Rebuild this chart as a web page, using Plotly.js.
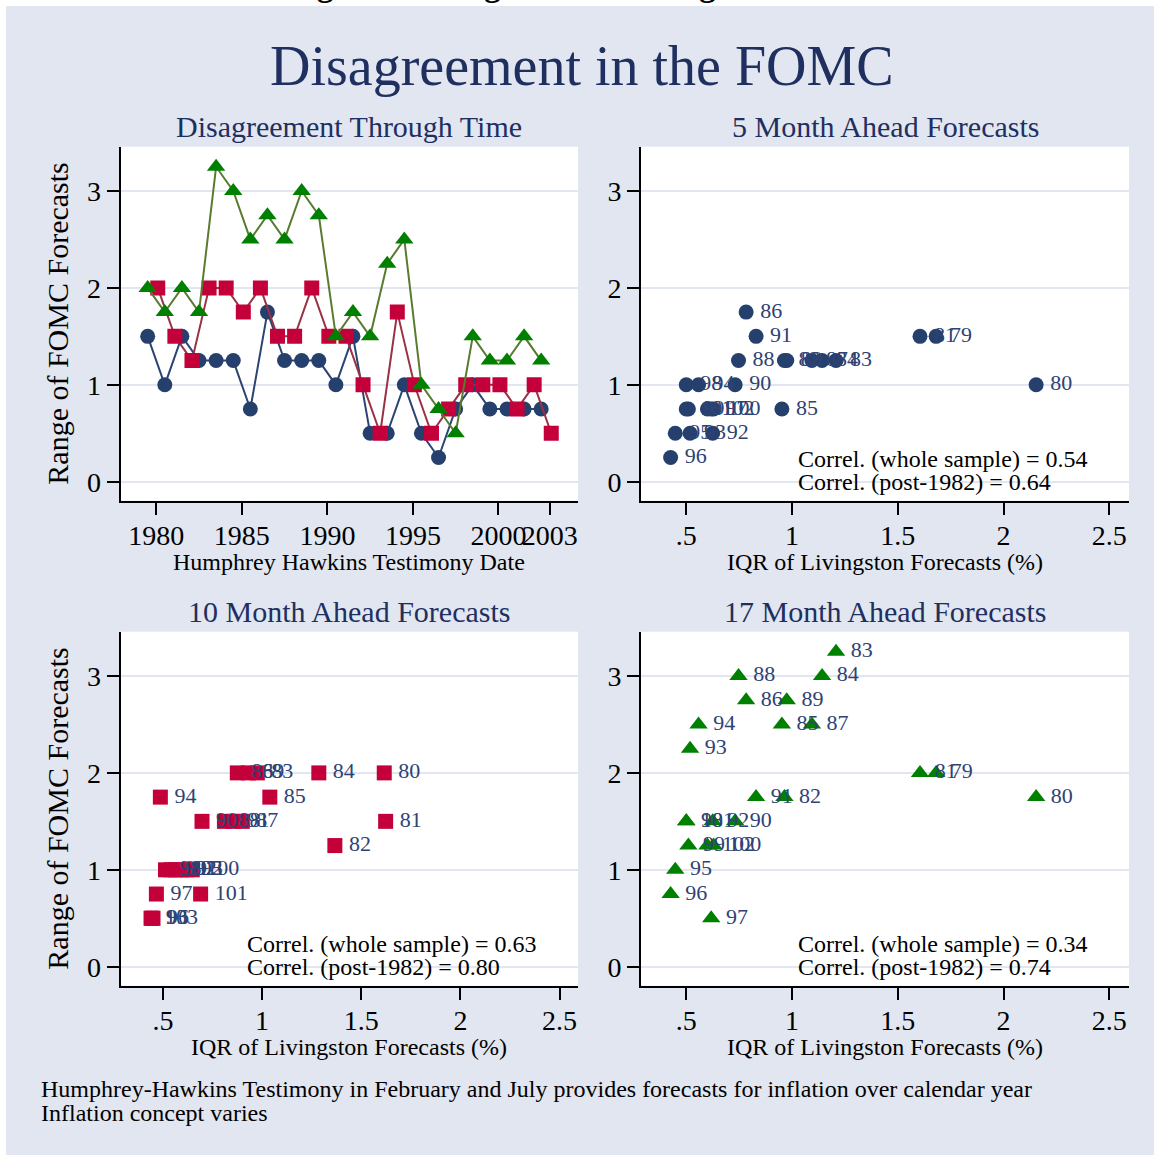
<!DOCTYPE html>
<html>
<head>
<meta charset="utf-8">
<script src="https://cdn.plot.ly/plotly-3.0.1.min.js"></script>
<style>
html,body{margin:0;padding:0;background:#ffffff;}
#chart{width:1154px;height:1155px;}
</style>
</head>
<body>
<div id="chart"></div>
<script>
// ---------------- DATA ----------------
// July testimony dates (5- and 17-month ahead forecasts)
const julyDates = ['1979-07-01','1980-07-01','1981-07-01','1982-07-01','1983-07-01','1984-07-01',
  '1985-07-01','1986-07-01','1987-07-01','1988-07-01','1989-07-01','1990-07-01','1991-07-01',
  '1992-07-01','1993-07-01','1994-07-01','1995-07-01','1996-07-01','1997-07-01','1998-07-01',
  '1999-07-01','2000-07-01','2001-07-01','2002-07-01'];
const julyLabels = ['79','80','81','82','83','84','85','86','87','88','89','90','91','92','93','94',
  '95','96','97','98','99','100','101','102'];
// February testimony dates (10-month ahead forecasts)
const febDates = ['1980-02-01','1981-02-01','1982-02-01','1983-02-01','1984-02-01','1985-02-01',
  '1986-02-01','1987-02-01','1988-02-01','1989-02-01','1990-02-01','1991-02-01','1992-02-01',
  '1993-02-01','1994-02-01','1995-02-01','1996-02-01','1997-02-01','1998-02-01','1999-02-01',
  '2000-02-01','2001-02-01','2002-02-01','2003-02-01'];
const febLabels = ['80','81','82','83','84','85','86','87','88','89','90','91','92','93','94','95',
  '96','97','98','99','100','101','102','103'];

// Range of FOMC forecasts
const range5  = [1.5,1.0,1.5,1.25,1.25,1.25,0.75,1.75,1.25,1.25,1.25,1.0,1.5,0.5,0.5,1.0,0.5,0.25,0.75,1.0,0.75,0.75,0.75,0.75];
const range17 = [2.0,1.75,2.0,1.75,3.25,3.0,2.5,2.75,2.5,3.0,2.75,1.5,1.75,1.5,2.25,2.5,1.0,0.75,0.5,1.5,1.25,1.25,1.5,1.25];
const range10 = [2.0,1.5,1.25,2.0,2.0,1.75,2.0,1.5,1.5,2.0,1.5,1.5,1.0,0.5,1.75,1.0,0.5,0.75,1.0,1.0,1.0,0.75,1.0,0.5];

// IQR of Livingston forecasts (%)
const iqrJuly = [1.681,2.154,1.605,0.964,1.208,1.142,0.952,0.783,1.094,0.747,0.975,0.731,0.830,0.625,0.518,0.558,0.448,0.426,0.618,0.500,0.510,0.629,0.500,0.600];
const iqrFeb  = [1.616,1.623,1.367,0.976,1.286,1.039,0.875,0.900,0.810,0.930,0.697,0.855,0.590,0.444,0.487,0.620,0.450,0.467,0.513,0.540,0.648,0.690,0.565,0.440];

// Ticks
const yearTickVals = ['1980-01-01','1985-01-01','1990-01-01','1995-01-01','2000-01-01','2003-01-01'];
const yearTickText = ['1980','1985','1990','1995','2000','2003'];
const iqrTickVals = [0.5,1,1.5,2,2.5];
const iqrTickText = ['.5','1','1.5','2','2.5'];
const rangeTickVals = [0,1,2,3];
const rangeTickText = ['0','1','2','3'];

// Correlation notes
const correl5  = ['Correl. (whole sample) = 0.54','Correl. (post-1982) = 0.64'];
const correl10 = ['Correl. (whole sample) = 0.63','Correl. (post-1982) = 0.80'];
const correl17 = ['Correl. (whole sample) = 0.34','Correl. (post-1982) = 0.74'];

// ---------------- STYLE ----------------
const W = 1154, H = 1155;
const px = x => x / W;
const py = y => 1 - y / H;
const FONT = 'Liberation Serif, Times New Roman, serif';
const BG = '#e1e6f0';
const NAVY = '#26406e', NAVYLINE = '#2a4473';
const RED = '#c4003a', REDLINE = '#983244';
const GREEN = '#008000', GREENLINE = '#5a7a30';
const TITLE = '#1f2f60';
const LABEL = '#2e4274';
const PADL = '\u2006'; // small gap between marker and its label

const baseAxis = {
  showline: true, linecolor: '#000', linewidth: 2,
  ticks: 'outside', ticklen: 12, tickwidth: 2, tickcolor: '#000',
  tickfont: {family: FONT, size: 28, color: '#000'},
  zeroline: false, fixedrange: true, automargin: false, tickangle: 0
};
function yAx(domain, anchor) {
  return Object.assign({}, baseAxis, {
    domain: domain, anchor: anchor, range: [-0.196, 3.457],
    tickmode: 'array', tickvals: rangeTickVals, ticktext: rangeTickText,
    showgrid: true, gridcolor: BG, gridwidth: 2
  });
}
function iqrAx(domain, anchor) {
  return Object.assign({}, baseAxis, {
    domain: domain, anchor: anchor, range: [0.286, 2.593],
    tickmode: 'array', tickvals: iqrTickVals, ticktext: iqrTickText,
    showgrid: false, ticklabelstandoff: -3
  });
}
const leftDom = [px(120.5), px(578)];
const rightDom = [px(641), px(1129)];
const topDom = [py(500.7), py(146.7)];
const botDom = [py(985.7), py(631.7)];

const padLabels = arr => arr.map(s => PADL + s);

// ---------------- TRACES ----------------
const traces = [
  {x: julyDates, y: range5, xaxis: 'x', yaxis: 'y', type: 'scatter', mode: 'lines+markers',
   line: {color: NAVYLINE, width: 2}, marker: {symbol: 'circle', size: 15, color: NAVY}},
  {x: febDates, y: range10, xaxis: 'x', yaxis: 'y', type: 'scatter', mode: 'lines+markers',
   line: {color: REDLINE, width: 2}, marker: {symbol: 'square', size: 15, color: RED}},
  {x: julyDates, y: range17, xaxis: 'x', yaxis: 'y', type: 'scatter', mode: 'lines+markers',
   line: {color: GREENLINE, width: 2}, marker: {symbol: 'triangle-up', size: 16, color: GREEN}},
  {x: iqrJuly, y: range5, xaxis: 'x2', yaxis: 'y2', type: 'scatter', mode: 'markers+text',
   text: padLabels(julyLabels), textposition: 'middle right', cliponaxis: false,
   textfont: {family: FONT, size: 22, color: LABEL},
   marker: {symbol: 'circle', size: 15, color: NAVY}},
  {x: iqrFeb, y: range10, xaxis: 'x3', yaxis: 'y3', type: 'scatter', mode: 'markers+text',
   text: padLabels(febLabels), textposition: 'middle right', cliponaxis: false,
   textfont: {family: FONT, size: 22, color: LABEL},
   marker: {symbol: 'square', size: 15, color: RED}},
  {x: iqrJuly, y: range17, xaxis: 'x4', yaxis: 'y4', type: 'scatter', mode: 'markers+text',
   text: padLabels(julyLabels), textposition: 'middle right', cliponaxis: false,
   textfont: {family: FONT, size: 22, color: LABEL},
   marker: {symbol: 'triangle-up', size: 16, color: GREEN}}
];

// ---------------- ANNOTATIONS ----------------
function ann(text, x, y, size, color, opts) {
  return Object.assign({
    text: text, xref: 'paper', yref: 'paper', x: px(x), y: py(y),
    xanchor: 'center', yanchor: 'middle', showarrow: false,
    font: {family: FONT, size: size, color: color}
  }, opts || {});
}
const annotations = [
  ann('<b>Figure 1: Disagreement among the FOMC</b>', 581, 5.5, 32.5, '#000', {yanchor: 'bottom'}),
  ann('Disagreement in the FOMC', 582, 66, 56, TITLE),
  ann('Disagreement Through Time', 349.3, 126, 30, TITLE),
  ann('5 Month Ahead Forecasts', 885, 126, 30, TITLE),
  ann('10 Month Ahead Forecasts', 349.3, 611, 30, TITLE),
  ann('17 Month Ahead Forecasts', 885, 611, 30, TITLE),
  ann('Range of FOMC Forecasts', 58, 323.7, 30, '#000', {textangle: -90}),
  ann('Range of FOMC Forecasts', 58, 808.7, 30, '#000', {textangle: -90}),
  ann('Humphrey Hawkins Testimony Date', 349.3, 562, 24, '#000'),
  ann('IQR of Livingston Forecasts (%)', 885, 562, 24, '#000'),
  ann('IQR of Livingston Forecasts (%)', 349.3, 1047, 24, '#000'),
  ann('IQR of Livingston Forecasts (%)', 885, 1047, 24, '#000'),
  ann(correl5[0], 796, 459, 24, '#000', {xanchor: 'left'}),
  ann(correl5[1], 796, 482, 24, '#000', {xanchor: 'left'}),
  ann(correl10[0], 245, 944, 24, '#000', {xanchor: 'left'}),
  ann(correl10[1], 245, 967, 24, '#000', {xanchor: 'left'}),
  ann(correl17[0], 796, 944, 24, '#000', {xanchor: 'left'}),
  ann(correl17[1], 796, 967, 24, '#000', {xanchor: 'left'}),
  ann('Humphrey-Hawkins Testimony in February and July provides forecasts for inflation over calendar year', 39, 1089, 24, '#000', {xanchor: 'left'}),
  ann('Inflation concept varies', 39, 1113, 24, '#000', {xanchor: 'left'})
];

const layout = {
  width: W, height: H, autosize: false,
  margin: {l: 0, r: 0, t: 0, b: 0, pad: 0},
  paper_bgcolor: BG, plot_bgcolor: '#ffffff',
  font: {family: FONT, color: '#000'},
  showlegend: false,
  xaxis: Object.assign({}, baseAxis, {
    type: 'date', domain: leftDom, anchor: 'y', range: ['1977-11-28', '2004-08-25'],
    tickmode: 'array', tickvals: yearTickVals, ticktext: yearTickText, showgrid: false,
    ticklabelstandoff: -3
  }),
  yaxis: yAx(topDom, 'x'),
  xaxis2: iqrAx(rightDom, 'y2'),
  yaxis2: yAx(topDom, 'x2'),
  xaxis3: iqrAx(leftDom, 'y3'),
  yaxis3: yAx(botDom, 'x3'),
  xaxis4: iqrAx(rightDom, 'y4'),
  yaxis4: yAx(botDom, 'x4'),
  shapes: [
    {type: 'rect', xref: 'paper', yref: 'paper', x0: 0, x1: px(6), y0: 0, y1: 1,
     fillcolor: '#ffffff', line: {width: 0}, layer: 'below'},
    {type: 'rect', xref: 'paper', yref: 'paper', x0: 0, x1: 1, y0: py(6), y1: 1,
     fillcolor: '#ffffff', line: {width: 0}, layer: 'below'}
  ],
  annotations: annotations
};

Plotly.newPlot('chart', traces, layout, {staticPlot: true, displayModeBar: false});
</script>
</body>
</html>
